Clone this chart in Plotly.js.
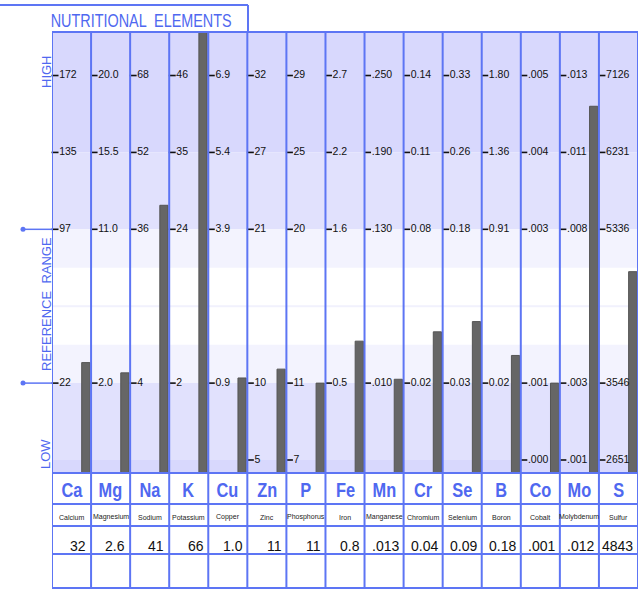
<!DOCTYPE html>
<html>
<head>
<meta charset="utf-8">
<script src="https://cdn.plot.ly/plotly-3.0.1.min.js"></script>
<style>html,body{margin:0;padding:0;background:#fff;}#chart{width:644px;height:592px;}</style>
</head>
<body>
<div id="chart"></div>
<script>
// ---- data ----
const symbols = ['Ca','Mg','Na','K','Cu','Zn','P','Fe','Mn','Cr','Se','B','Co','Mo','S'];
const names = ['Calcium','Magnesium','Sodium','Potassium','Copper','Zinc','Phosphorus','Iron','Manganese','Chromium','Selenium','Boron','Cobalt','Molybdenum','Sulfur'];
const resultLabels = ['32','2.6','41','66','1.0','11','11','0.8','.013','0.04','0.09','0.18','.001','.012','4843'];
const results = [32, 2.6, 41, 66, 1.0, 11, 11, 0.8, 0.013, 0.04, 0.09, 0.18, 0.001, 0.0122, 4843];
// tick labels per row (row 5 = top "HIGH", row 1 = lower reference line, row 0 = bottom)
const ticksRow5 = ['172','20.0','68','46','6.9','32','29','2.7','.250','0.14','0.33','1.80','.005','.013','7126'];
const ticksRow4 = ['135','15.5','52','35','5.4','27','25','2.2','.190','0.11','0.26','1.36','.004','.011','6231'];
const ticksRow3 = ['97','11.0','36','24','3.9','21','20','1.6','.130','0.08','0.18','0.91','.003','.008','5336'];
const ticksRow1 = ['22','2.0','4','2','0.9','10','11','0.5','.010','0.02','0.03','0.02','.001','.003','3546'];
const ticksRow0 = ['','','','','','5','7','','','','','','.000','.001','2651'];
const sideLabels = ['HIGH','REFERENCE  RANGE','LOW'];
const chartTitle = 'NUTRITIONAL  ELEMENTS';

// ---- style ----
const BLUE = '#5d75f4';
const BLUE_TXT = '#4f68f0';
const FONT = 'Liberation Sans, Arial, sans-serif';
const Y0 = -0.169, Y1 = 5.566;
const N = symbols.length;
const H = 556; // plot+table height in px
const pyToPaper = p => (588 - p) / H;
const pxToPaper = p => (p - 52) / 586;

const rows = [[5, ticksRow5],[4, ticksRow4],[3, ticksRow3],[1, ticksRow1],[0, ticksRow0]];

function levelOf(i, v) {
  const pts = rows.filter(r => r[1][i] !== '').map(r => [r[0], parseFloat(r[1][i])]).sort((a,b)=>a[0]-b[0]);
  let k = 0;
  while (k < pts.length - 2 && v > pts[k+1][1]) k++;
  const [l0, v0] = pts[k], [l1, v1] = pts[k+1];
  return l0 + (v - v0) / (v1 - v0) * (l1 - l0);
}

const idx = symbols.map((s,i)=>i);
const barTrace = {
  type: 'bar',
  x: idx.map(i => i + 0.865),
  y: idx.map(i => levelOf(i, results[i]) - Y0),
  base: idx.map(() => Y0),
  width: 0.21,
  marker: {color: '#666666', line: {color: '#555555', width: 1}},
  hoverinfo: 'skip'
};

const tx = [], ty = [], tt = [];
rows.forEach(([lvl, arr]) => arr.forEach((t, i) => { if (t !== '') { tx.push(i + 0.077); ty.push(lvl); tt.push(t); } }));
const tickTrace = {
  type: 'scatter', mode: 'markers+text',
  x: tx, y: ty, text: tt, textposition: 'middle right',
  marker: {symbol: 'line-ew', size: 5, line: {color: '#111', width: 1.6}, color: '#111'},
  textfont: {family: FONT, size: 10.5, color: '#111'},
  cliponaxis: false, hoverinfo: 'skip'
};

const shapes = [];
const bands = [[4, Y1, '#d8d8fd'], [3, 4, '#e1e1fd'], [2.5, 3, '#f3f3fe'], [1, 1.5, '#f3f3fe'], [0, 1, '#e1e1fd'], [Y0, 0, '#d8d8fd']];
bands.forEach(([a,b,c]) => shapes.push({type:'rect', layer:'below', xref:'paper', yref:'y', x0:0, x1:1, y0:a, y1:b, fillcolor:c, line:{width:0}}));
shapes.push({type:'line', layer:'below', xref:'paper', yref:'y', x0:0, x1:1, y0:2, y1:2, line:{color:'#f1f1fd', width:2}});
// column lines
for (let i = 0; i <= N; i++) shapes.push({type:'line', xref:'x', yref:'paper', x0:i, x1:i, y0:0, y1:1, line:{color:BLUE, width:2}});
// horizontal table lines
[473, 504, 526, 554, 588, 32].forEach(p => shapes.push({type:'line', xref:'paper', yref:'paper', x0:0, x1:1, y0:pyToPaper(p), y1:pyToPaper(p), line:{color:BLUE, width:2}}));
// title box
shapes.push({type:'line', xref:'paper', yref:'paper', x0:pxToPaper(0), x1:pxToPaper(248), y0:pyToPaper(5), y1:pyToPaper(5), line:{color:BLUE, width:2}});
shapes.push({type:'line', xref:'paper', yref:'paper', x0:pxToPaper(248), x1:pxToPaper(248), y0:pyToPaper(5), y1:pyToPaper(32), line:{color:BLUE, width:2}});
// reference markers
[3, 1].forEach(l => {
  shapes.push({type:'line', xref:'paper', yref:'y', x0:pxToPaper(23), x1:0, y0:l, y1:l, line:{color:BLUE, width:1.5}});
  shapes.push({type:'circle', xref:'paper', yref:'y', xsizemode:'pixel', ysizemode:'pixel', xanchor:pxToPaper(23), yanchor:l, x0:-2.5, x1:2.5, y0:-2.5, y1:2.5, fillcolor:BLUE, line:{color:BLUE, width:0}});
});

const ann = [];
ann.push({xref:'paper', yref:'paper', x:pxToPaper(141), y:pyToPaper(21), text:chartTitle, showarrow:false, xanchor:'center', yanchor:'middle', font:{family:FONT, size:18, color:BLUE_TXT}, name:'narrow0.8'});
[[72, 0], [304, 1], [454, 2]].forEach(([p, k]) => ann.push({xref:'paper', yref:'paper', x:pxToPaper(46), y:pyToPaper(p), text:sideLabels[k], textangle:-90, showarrow:false, xanchor:'center', yanchor:'middle', font:{family:FONT, size:13, color:BLUE_TXT}}));
idx.forEach(i => {
  ann.push({xref:'x', yref:'paper', x:i+0.5, y:pyToPaper(490), text:'<b>'+symbols[i]+'</b>', showarrow:false, xanchor:'center', yanchor:'middle', font:{family:FONT, size:20, color:BLUE_TXT}, name:'narrow0.82'});
  ann.push({xref:'x', yref:'paper', x:i+0.5, y:pyToPaper(517), text:names[i], showarrow:false, xanchor:'center', yanchor:'middle', font:{family:FONT, size:7, color:'#222'}});
  ann.push({xref:'x', yref:'paper', x:i+1-0.07, y:pyToPaper(546), text:resultLabels[i], showarrow:false, xanchor:'right', yanchor:'middle', font:{family:FONT, size:14, color:'#111'}});
});

const layout = {
  width: 644, height: 592,
  margin: {l:52, r:6, t:32, b:4, pad:0},
  paper_bgcolor: '#ffffff', plot_bgcolor: 'rgba(0,0,0,0)',
  showlegend: false,
  xaxis: {range:[0, N], showgrid:false, zeroline:false, showticklabels:false, ticks:'', fixedrange:true},
  yaxis: {range:[Y0, Y1], domain:[pyToPaper(473), 1], showgrid:false, zeroline:false, showticklabels:false, ticks:'', fixedrange:true},
  shapes: shapes, annotations: ann, bargap: 0
};
Plotly.newPlot('chart', [barTrace, tickTrace], layout, {displayModeBar:false, staticPlot:true}).then(gd => {
  // horizontally condense title and element symbols (mimic a narrow typeface)
  const groups = gd.querySelectorAll('.annotation');
  groups.forEach((g, k) => {
    const a = layout.annotations[k];
    if (!a || !a.name || a.name.indexOf('narrow') !== 0) return;
    const s = parseFloat(a.name.slice(6));
    const t = g.querySelector('text.annotation-text');
    if (!t) return;
    const bb = t.getBBox();
    const cx = bb.x + bb.width / 2;
    const prev = t.getAttribute('transform') || '';
    t.setAttribute('transform', prev + ` translate(${cx},0) scale(${s},1) translate(${-cx},0)`);
  });
});
</script>
</body>
</html>
